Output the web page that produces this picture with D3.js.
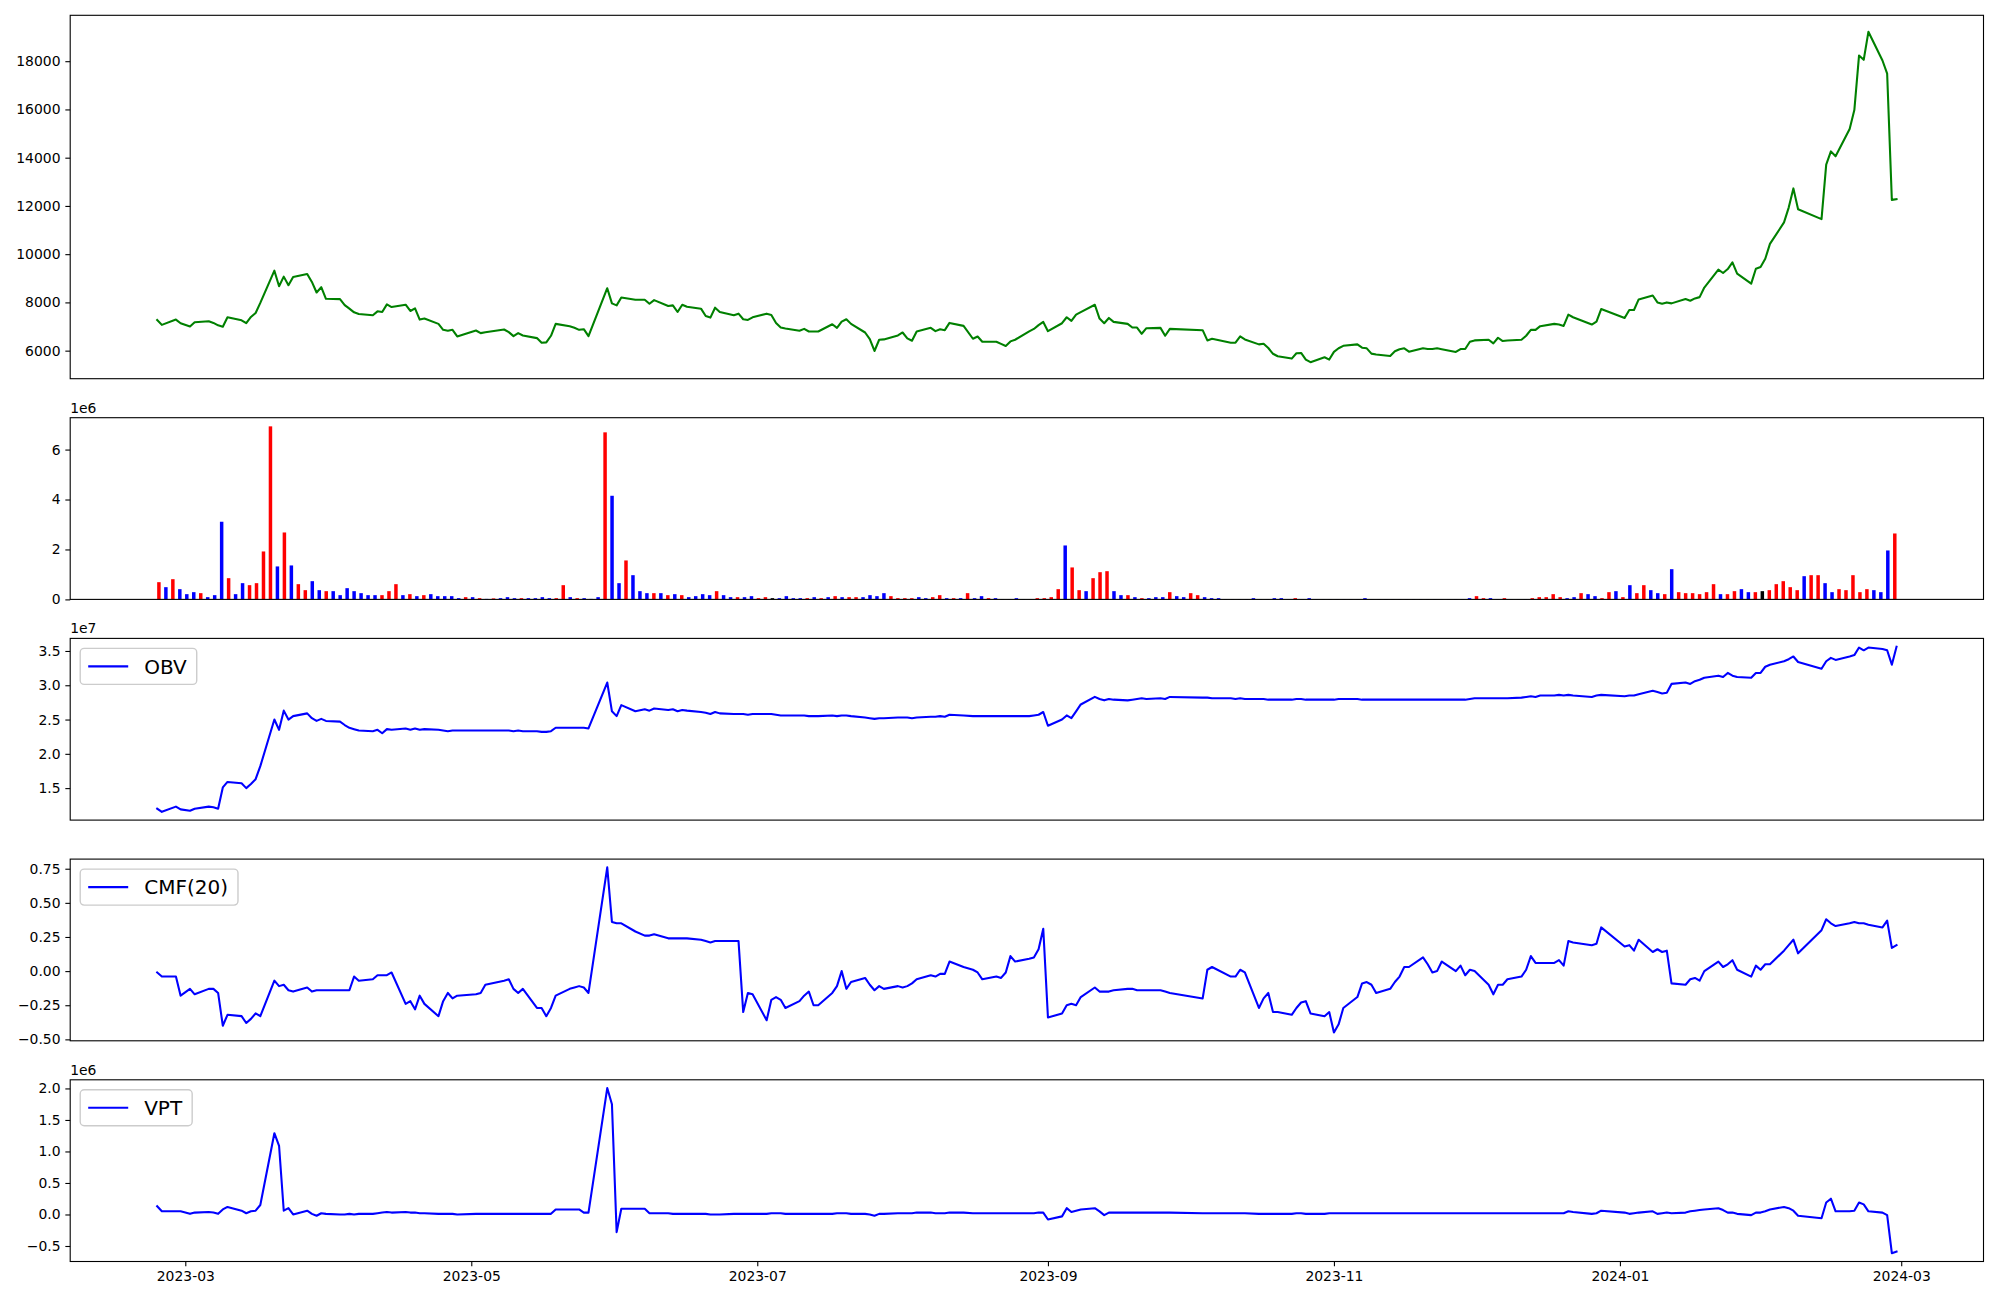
<!DOCTYPE html>
<html><head><meta charset="utf-8">
<script src="https://cdn.jsdelivr.net/npm/d3@7"></script>
<style>
body{margin:0;background:#fff}
svg{display:block}
text{font-family:"DejaVu Sans",sans-serif}
</style>
</head><body>
<svg id="chart" width="2000" height="1300"></svg>
<script>
// ---------------- DATA ----------------
// Korean trading days, month -> day numbers
const tradingDays = [
  ["2023-02", "23 24 27 28"],
  ["2023-03", "2 3 6 7 8 9 10 13 14 15 16 17 20 21 22 23 24 27 28 29 30 31"],
  ["2023-04", "3 4 5 6 7 10 11 12 13 14 17 18 19 20 21 24 25 26 27 28"],
  ["2023-05", "2 3 4 8 9 10 11 12 15 16 17 18 19 22 23 24 25 26 30 31"],
  ["2023-06", "1 2 5 7 8 9 12 13 14 15 16 19 20 21 22 23 26 27 28 29 30"],
  ["2023-07", "3 4 5 6 7 10 11 12 13 14 17 18 19 20 21 24 25 26 27 28 31"],
  ["2023-08", "1 2 3 4 7 8 9 10 11 14 16 17 18 21 22 23 24 25 28 29 30 31"],
  ["2023-09", "1 4 5 6 7 8 11 12 13 14 15 18 19 20 21 22 25 26 27"],
  ["2023-10", "4 5 6 10 11 12 13 16 17 18 19 20 23 24 25 26 27 30 31"],
  ["2023-11", "1 2 3 6 7 8 9 10 13 14 15 16 17 20 21 22 23 24 27 28 29 30"],
  ["2023-12", "1 4 5 6 7 8 11 12 13 14 15 18 19 20 21 22 26 27 28"],
  ["2024-01", "2 3 4 5 8 9 10 11 12 15 16 17 18 19 22 23 24 25 26 29 30 31"],
  ["2024-02", "1 2 5 6 7 8 13 14 15 16 19 20 21 22 23 26 27 28 29"]
];

const closePrice = [
  7274,7069,7288,7137,
  7000,7178,7219,7150,7050,6990,7384,7260,7137,7397,7562,7979,9315,8672,9069,8713,9055,9178,8850,8411,8630,8151,
  8137,7890,7740,7589,7521,7466,7630,7603,7918,7808,7904,7644,7754,7288,7329,7110,6863,6822,6863,6589,
  6836,6726,6760,6877,6767,6603,6726,6630,6520,6329,6342,6617,7110,7014,6950,6863,6890,6603,8589,7959,
  7877,8206,8110,8110,7945,8096,7850,7877,7603,7904,7822,7740,7438,7370,7781,7603,7466,7534,7302,7274,7380,
  7534,7480,7150,6960,6920,6822,6904,6795,6795,6795,7096,6945,7205,7301,7110,6753,6480,5986,6452,6466,6630,
  6753,6507,6411,6795,6945,6808,6890,6849,7150,7027,6493,6589,6370,6370,6280,6192,6384,6452,6800,6900,7060,7190,
  6808,7137,7384,7233,7493,7600,7904,7329,7137,7356,7192,7110,6959,6959,6699,6932,6945,6617,6904,
  6849,6425,6493,6329,6329,6589,6466,6260,6288,6110,5870,5767,5671,5890,5904,5630,5522,5726,5630,
  5950,6100,6200,6260,6123,6096,5877,5840,5781,5973,6060,6096,5959,6096,6070,6068,6096,6060,5945,6068,6068,6370,
  6425,6452,6301,6534,6397,6420,6452,6617,6863,6863,7014,7110,7082,7027,7493,7384,7082,7206,7726,
  7356,7685,7685,8124,8288,8000,7945,8000,7960,8137,8069,8165,8219,8617,9356,9220,9384,9658,9192,8781,9398,9466,
  9809,10425,11316,11932,12727,11864,11453,13713,14261,14056,15193,15974,18234,18056,19218,18029,17481,12250,12280
];

// volume in units of 1e6 shares
const volume = [
  0.69,0.49,0.81,0.41,
  0.21,0.29,0.25,0.09,0.17,3.11,0.85,0.21,0.65,0.57,0.65,1.92,6.93,1.32,2.68,1.36,0.61,0.37,0.73,0.37,0.33,0.33,
  0.17,0.45,0.33,0.25,0.17,0.17,0.17,0.33,0.61,0.17,0.21,0.13,0.17,0.21,0.13,0.13,0.13,0.05,0.09,0.09,
  0.05,0.02,0.04,0.05,0.09,0.05,0.05,0.05,0.05,0.09,0.05,0.05,0.57,0.09,0.05,0.05,0.02,0.09,6.69,4.15,
  0.65,1.56,0.97,0.33,0.25,0.25,0.25,0.17,0.21,0.17,0.09,0.13,0.21,0.17,0.33,0.17,0.09,0.09,0.09,0.13,0.05,
  0.09,0.05,0.05,0.13,0.05,0.05,0.05,0.09,0.05,0.09,0.13,0.09,0.09,0.09,0.09,0.17,0.13,0.25,0.13,0.05,0.05,
  0.05,0.09,0.05,0.09,0.17,0.05,0.05,0.05,0.25,0.05,0.13,0.05,0.05,0.01,0.01,0.05,0.01,0.01,0.05,0.05,0.09,0.41,
  2.16,1.28,0.37,0.33,0.85,1.09,1.13,0.33,0.17,0.17,0.09,0.05,0.05,0.09,0.09,0.29,0.13,0.09,0.25,
  0.17,0.09,0.05,0.05,0.01,0.01,0.01,0.01,0.05,0.01,0.01,0.05,0.05,0.01,0.05,0.01,0.05,0.01,0.01,
  0.01,0.01,0.01,0.01,0.01,0.05,0.01,0.01,0.01,0.01,0.01,0.01,0.01,0.01,0.01,0.01,0.01,0.01,0.01,0.01,0.05,0.13,
  0.05,0.05,0.01,0.05,0.01,0.01,0.01,0.05,0.09,0.09,0.21,0.09,0.05,0.09,0.25,0.21,0.13,0.05,0.29,
  0.33,0.09,0.57,0.25,0.57,0.37,0.25,0.21,1.21,0.29,0.25,0.25,0.21,0.29,0.61,0.21,0.21,0.33,0.41,0.29,0.29,0.33,
  0.37,0.61,0.73,0.49,0.37,0.93,0.97,0.97,0.65,0.29,0.41,0.37,0.97,0.29,0.41,0.37,0.29,1.96,2.64
];

// candle direction of each day: R = close above open, B = below, K = unchanged
const candleDirection = (
  "RBRB" +
  "BBRBBBRBBRRRRBRBRRBBRB" +
  "BBBBBBRRRBRBRBBBBBRB" +
  "RBRBBBRBBBBRRBRBBBRB" +
  "BRBBBRBRBRBBBBRBBRBBR" +
  "RKBBBBRBRBRBRRBBBBRRR" +
  "RBBRRBRBRBBRBBBBBRRRRR" +
  "BRRBRRRBBRBRBBBRBBR" +
  "RBBBBBBBBBBBBBRBBBB" +
  "BBBBBBBBBBBBBBBBBBBBBR" +
  "RBBRBBBRRRRRBBRBBRR" +
  "BRBRRBBRBRRRRRRBRRBBRK" +
  "RRRRRBRRBBRRRRRBBBR"
).split("");

// OBV in units of 1e7
const obv = [
  1.20,1.154,1.23,1.19,
  1.17,1.20,1.23,1.22,1.20,1.51,1.59,1.57,1.50,1.56,1.63,1.82,2.50,2.35,2.63,2.50,2.55,2.59,2.52,2.48,2.51,2.48,
  2.47,2.42,2.38,2.36,2.34,2.33,2.35,2.30,2.36,2.35,2.37,2.35,2.37,2.35,2.36,2.35,2.34,2.33,2.34,2.34,
  2.34,2.34,2.34,2.34,2.34,2.33,2.34,2.33,2.33,2.32,2.32,2.33,2.38,2.38,2.38,2.38,2.38,2.37,3.04,2.62,
  2.55,2.71,2.62,2.65,2.63,2.66,2.64,2.65,2.62,2.64,2.63,2.61,2.60,2.58,2.61,2.59,2.58,2.58,2.58,2.57,2.58,
  2.58,2.58,2.57,2.56,2.56,2.56,2.56,2.55,2.55,2.55,2.56,2.55,2.56,2.56,2.55,2.53,2.52,2.51,2.52,2.52,2.53,
  2.53,2.53,2.52,2.53,2.54,2.54,2.55,2.54,2.57,2.56,2.55,2.55,2.55,2.55,2.55,2.55,2.55,2.55,2.55,2.56,2.57,2.61,
  2.41,2.50,2.56,2.52,2.62,2.72,2.83,2.80,2.78,2.80,2.79,2.78,2.79,2.80,2.81,2.80,2.81,2.80,2.83,
  2.82,2.82,2.81,2.81,2.80,2.81,2.80,2.80,2.80,2.79,2.79,2.79,2.79,2.80,2.80,2.79,2.79,2.79,2.79,
  2.79,2.80,2.80,2.80,2.79,2.79,2.79,2.79,2.79,2.79,2.79,2.79,2.79,2.79,2.79,2.79,2.79,2.79,2.79,2.79,2.79,2.80,
  2.81,2.81,2.81,2.81,2.81,2.81,2.82,2.83,2.84,2.83,2.85,2.85,2.86,2.85,2.86,2.85,2.83,2.85,2.86,
  2.84,2.85,2.85,2.87,2.92,2.90,2.88,2.89,3.02,3.04,3.02,3.06,3.08,3.11,3.14,3.12,3.18,3.14,3.12,3.11,3.18,3.18,
  3.27,3.30,3.35,3.38,3.42,3.34,3.24,3.35,3.40,3.37,3.42,3.44,3.55,3.51,3.55,3.53,3.51,3.30,3.563
];

// Chaikin money flow, 20 days
const cmf20 = [
  -0.01,-0.04,-0.04,-0.18,
  -0.13,-0.17,-0.13,-0.13,-0.16,-0.40,-0.32,-0.33,-0.38,-0.35,-0.31,-0.33,-0.07,-0.11,-0.10,-0.14,-0.15,-0.12,-0.15,-0.14,-0.14,-0.14,
  -0.14,-0.14,-0.14,-0.04,-0.07,-0.06,-0.03,-0.03,-0.03,-0.01,-0.24,-0.22,-0.28,-0.18,-0.24,-0.33,-0.22,-0.16,-0.20,-0.18,
  -0.17,-0.16,-0.10,-0.07,-0.06,-0.13,-0.16,-0.13,-0.27,-0.27,-0.33,-0.27,-0.18,-0.13,-0.12,-0.11,-0.12,-0.16,0.76,0.36,
  0.35,0.35,0.29,0.26,0.26,0.27,0.24,0.24,0.24,0.24,0.24,0.23,0.22,0.21,0.22,0.22,0.22,0.22,-0.30,-0.16,-0.17,
  -0.36,-0.21,-0.19,-0.21,-0.27,-0.22,-0.18,-0.15,-0.25,-0.25,-0.16,-0.11,0.00,-0.13,-0.08,-0.05,-0.10,-0.14,-0.11,-0.13,-0.11,
  -0.12,-0.11,-0.09,-0.06,-0.03,-0.04,-0.02,-0.02,0.07,0.03,0.01,-0.01,-0.06,-0.04,-0.05,-0.01,0.11,0.07,0.09,0.10,0.16,0.31,
  -0.34,-0.31,-0.25,-0.24,-0.25,-0.19,-0.12,-0.15,-0.15,-0.15,-0.14,-0.13,-0.13,-0.14,-0.14,-0.14,-0.14,-0.15,-0.16,
  -0.20,0.01,0.03,-0.04,-0.04,0.01,-0.01,-0.27,-0.20,-0.16,-0.30,-0.30,-0.32,-0.27,-0.23,-0.22,-0.31,-0.33,-0.30,
  -0.45,-0.39,-0.27,-0.19,-0.09,-0.08,-0.10,-0.16,-0.13,-0.08,-0.04,0.03,0.03,0.10,0.05,-0.01,0.00,0.07,0.00,0.04,-0.03,0.01,
  0.00,-0.10,-0.17,-0.10,-0.10,-0.06,-0.04,0.01,0.11,0.06,0.06,0.06,0.08,0.04,0.22,0.21,0.19,0.20,0.32,
  0.18,0.19,0.15,0.23,0.14,0.16,0.14,0.15,-0.09,-0.10,-0.06,-0.05,-0.07,0.00,0.07,0.03,0.05,0.08,0.01,-0.04,0.04,0.01,
  0.05,0.05,0.15,0.19,0.23,0.13,0.30,0.38,0.35,0.33,0.35,0.36,0.35,0.35,0.34,0.32,0.37,0.17,0.19
];

// VPT in units of 1e6
const vpt = [
  0.13,0.05,0.05,0.05,
  0.01,0.03,0.04,0.03,0.01,0.08,0.12,0.06,0.02,0.05,0.06,0.15,1.29,1.09,0.06,0.10,0.00,0.06,0.01,-0.02,0.02,0.01,
  0.00,0.00,0.01,0.00,0.01,0.01,0.02,0.03,0.04,0.03,0.04,0.03,0.03,0.02,0.02,0.01,0.01,0.01,0.01,0.00,
  0.01,0.01,0.01,0.01,0.01,0.01,0.01,0.01,0.01,0.01,0.01,0.01,0.08,0.08,0.08,0.08,0.03,0.03,2.006,1.75,
  -0.28,0.09,0.09,0.09,0.02,0.02,0.02,0.01,0.01,0.01,0.01,0.01,0.01,0.00,0.00,0.00,0.01,0.01,0.01,0.01,0.01,
  0.01,0.02,0.02,0.02,0.01,0.01,0.01,0.01,0.01,0.01,0.01,0.02,0.02,0.02,0.01,0.01,0.00,-0.02,0.01,0.01,0.02,
  0.02,0.02,0.02,0.03,0.03,0.02,0.02,0.02,0.03,0.03,0.02,0.02,0.02,0.02,0.02,0.02,0.02,0.02,0.02,0.02,0.03,0.03,
  -0.08,-0.03,0.10,0.04,0.06,0.08,0.10,0.05,-0.01,0.03,0.03,0.03,0.03,0.03,0.03,0.03,0.03,0.03,0.03,
  0.02,0.02,0.02,0.02,0.02,0.02,0.02,0.01,0.01,0.01,0.01,0.01,0.01,0.02,0.02,0.01,0.01,0.01,0.02,
  0.02,0.02,0.02,0.02,0.02,0.02,0.02,0.02,0.02,0.02,0.02,0.02,0.02,0.02,0.02,0.02,0.02,0.02,0.02,0.02,0.02,0.02,
  0.02,0.02,0.02,0.02,0.02,0.02,0.02,0.02,0.02,0.02,0.02,0.02,0.02,0.02,0.05,0.04,0.01,0.02,0.06,
  0.03,0.01,0.02,0.03,0.05,0.01,0.02,0.03,0.02,0.03,0.05,0.06,0.07,0.08,0.10,0.07,0.03,0.03,0.01,-0.01,0.03,0.03,
  0.05,0.08,0.12,0.10,0.06,-0.02,-0.06,0.19,0.25,0.05,0.05,0.06,0.19,0.16,0.05,0.03,-0.01,-0.615,-0.59
];

const priceTicks = [6000, 8000, 10000, 12000, 14000, 16000, 18000];
const volumeTicks = [0, 2, 4, 6];
const obvTicks = [1.5, 2.0, 2.5, 3.0, 3.5];
const cmfTicks = [-0.50, -0.25, 0.00, 0.25, 0.50, 0.75];
const vptTicks = [-0.5, 0.0, 0.5, 1.0, 1.5, 2.0];
const dateTicks = ["2023-03-01","2023-05-01","2023-07-01","2023-09-01","2023-11-01","2024-01-01","2024-03-01"];

// ---------------- BUILD ----------------
const parse = d3.timeParse("%Y-%m-%d");
const dateStrings = tradingDays.flatMap(([m, ds]) => ds.split(" ").map(d => m + "-" + d.padStart(2, "0")));
const dates = dateStrings.map(parse);
const N = dates.length;
[closePrice, volume, candleDirection, obv, cmf20, vpt].forEach((a, k) => {
  if (a.length !== N) throw new Error("length mismatch in series " + k + ": " + a.length + " vs " + N);
});

const svg = d3.select("#chart");
svg.append("rect").attr("width", 2000).attr("height", 1300).attr("fill", "#fff");

const L = 70.2, R = 1983.5;
const P = {
  price: [15.3, 378.7],
  vol:   [417.7, 599.4],
  obv:   [638.4, 820.1],
  cmf:   [859.1, 1040.8],
  vpt:   [1079.8, 1261.5]
};
const FS = 13.9;
const LW = 2.08;

// x scales (matplotlib-like 5% margins)
const t0 = dates[0].getTime(), t1 = dates[N - 1].getTime(), span = t1 - t0;
const xDate = d3.scaleTime().domain([new Date(t0 - 0.05 * span), new Date(t1 + 0.05 * span)]).range([L, R]);
const bw = 0.5;
const iLo = -bw / 2, iHi = N - 1 + bw / 2, iSpan = iHi - iLo;
const xIdx = d3.scaleLinear().domain([iLo - 0.05 * iSpan, iHi + 0.05 * iSpan]).range([L, R]);

function marginDomain(arr) {
  const [a, b] = d3.extent(arr);
  const m = (b - a) * 0.05;
  return [a - m, b + m];
}

function yAxis(y, ticks, fmt) {
  const ax = d3.axisLeft(y).tickValues(ticks).tickFormat(fmt).tickSize(4.86).tickPadding(4.86);
  const g = svg.append("g").attr("transform", `translate(${L},0)`).call(ax);
  g.select(".domain").remove();
  g.attr("font-size", FS).attr("font-family", "DejaVu Sans");
  g.selectAll("text").attr("fill", "#000");
  g.selectAll("line").attr("stroke", "#000").attr("stroke-width", 1.1);
}

function frame(p) {
  svg.append("rect").attr("x", L).attr("y", p[0]).attr("width", R - L).attr("height", p[1] - p[0])
    .attr("fill", "none").attr("stroke", "#000").attr("stroke-width", 1.1);
}

function drawLine(values, y, color) {
  const line = d3.line().x((d, i) => xDate(dates[i])).y(d => y(d));
  svg.append("path").datum(values).attr("d", line).attr("fill", "none")
    .attr("stroke", color).attr("stroke-width", LW).attr("stroke-linejoin", "round").attr("stroke-linecap", "square");
}

function offsetText(p, txt) {
  svg.append("text").attr("x", L).attr("y", p[0] - 5).attr("font-size", FS).attr("fill", "#000").text(txt);
}

function legend(p, label) {
  const fs = 20, bx = L + 10, by = p[0] + 10, pad = 8, hl = 40, hp = 16, h = 36;
  const g = svg.append("g");
  const rect = g.append("rect");
  const ln = g.append("line");
  const t = g.append("text").attr("x", bx + pad + hl + hp).attr("y", by + h / 2).attr("dy", "0.36em")
    .attr("font-size", fs).attr("fill", "#000").text(label);
  const w = t.node().getComputedTextLength();
  rect.attr("x", bx).attr("y", by).attr("width", pad + hl + hp + w + pad + 2).attr("height", h)
    .attr("rx", 4).attr("ry", 4).attr("fill", "#fff").attr("fill-opacity", 0.8)
    .attr("stroke", "#cccccc").attr("stroke-width", 1.39);
  ln.attr("x1", bx + pad).attr("x2", bx + pad + hl).attr("y1", by + h / 2).attr("y2", by + h / 2)
    .attr("stroke", "blue").attr("stroke-width", LW);
}

// ---- Price panel ----
const yPrice = d3.scaleLinear().domain(marginDomain(closePrice)).range([P.price[1], P.price[0]]);
drawLine(closePrice, yPrice, "green");
yAxis(yPrice, priceTicks, d3.format("d"));
frame(P.price);

// ---- Volume panel ----
const yVol = d3.scaleLinear().domain([0, d3.max(volume) * 1.05]).range([P.vol[1], P.vol[0]]);
const colorOf = { R: "red", B: "blue", K: "black" };
svg.append("g").selectAll("rect").data(volume).join("rect")
  .attr("x", (d, i) => xIdx(i - bw / 2))
  .attr("width", (d, i) => xIdx(i + bw / 2) - xIdx(i - bw / 2))
  .attr("y", d => yVol(d))
  .attr("height", d => yVol(0) - yVol(d))
  .attr("fill", (d, i) => colorOf[candleDirection[i]]);
yAxis(yVol, volumeTicks, d3.format("d"));
frame(P.vol);
offsetText(P.vol, "1e6");

// ---- OBV panel ----
const yObv = d3.scaleLinear().domain(marginDomain(obv)).range([P.obv[1], P.obv[0]]);
drawLine(obv, yObv, "blue");
yAxis(yObv, obvTicks, d3.format(".1f"));
frame(P.obv);
offsetText(P.obv, "1e7");
legend(P.obv, "OBV");

// ---- CMF panel ----
const yCmf = d3.scaleLinear().domain(marginDomain(cmf20)).range([P.cmf[1], P.cmf[0]]);
drawLine(cmf20, yCmf, "blue");
yAxis(yCmf, cmfTicks, d3.format(".2f"));
frame(P.cmf);
legend(P.cmf, "CMF(20)");

// ---- VPT panel ----
const yVpt = d3.scaleLinear().domain(marginDomain(vpt)).range([P.vpt[1], P.vpt[0]]);
drawLine(vpt, yVpt, "blue");
yAxis(yVpt, vptTicks, d3.format(".1f"));
frame(P.vpt);
offsetText(P.vpt, "1e6");
legend(P.vpt, "VPT");

// ---- Date axis ----
const xa = d3.axisBottom(xDate).tickValues(dateTicks.map(parse)).tickFormat(d3.timeFormat("%Y-%m"))
  .tickSize(4.86).tickPadding(4.86);
const gx = svg.append("g").attr("transform", `translate(0,${P.vpt[1]})`).call(xa);
gx.select(".domain").remove();
gx.attr("font-size", FS).attr("font-family", "DejaVu Sans");
gx.selectAll("text").attr("fill", "#000");
gx.selectAll("line").attr("stroke", "#000").attr("stroke-width", 1.1);
</script>
</body></html>
